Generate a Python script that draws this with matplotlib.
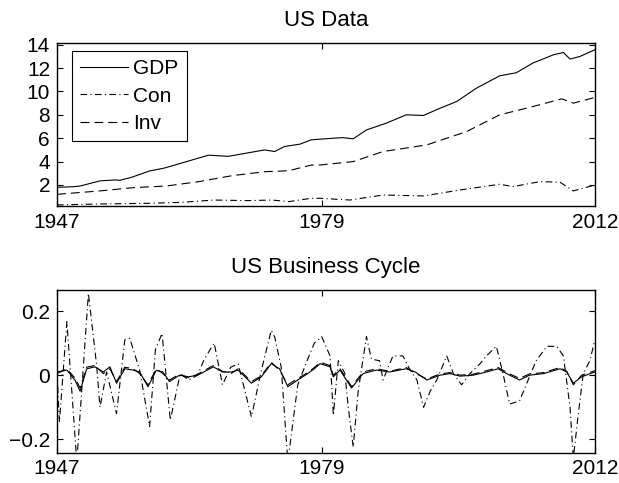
import numpy as np
import matplotlib
matplotlib.use("Agg")
import matplotlib.pyplot as plt

plt.rcParams['font.family'] = ['Liberation Sans', 'DejaVu Sans']

# --- levels ---
gdp_t = [1947, 1949, 1949.8, 1952.2, 1954, 1954.6, 1956, 1958.2, 1960, 1962, 1965.3,
         1967.7, 1970.1, 1972.1, 1973.3, 1974.5, 1976.4, 1977.7, 1980.4, 1981.5,
         1982.8, 1984.4, 1986.8, 1989.2, 1991.3, 1993.3, 1995.3, 1997.7, 2000.5,
         2002.5, 2004.5, 2007, 2008.2, 2009, 2010.2, 2012]
gdp = [1.8, 1.85, 1.91, 2.35, 2.43, 2.4, 2.65, 3.2, 3.45, 3.86, 4.55,
       4.45, 4.75, 5.0, 4.86, 5.29, 5.5, 5.86, 6.0, 6.05,
       5.95, 6.71, 7.29, 8.0, 7.95, 8.57, 9.14, 10.29, 11.34,
       11.6, 12.43, 13.14, 13.34, 12.77, 13.0, 13.57]

inv_t = [1947, 1952.2, 1956.2, 1960.2, 1964.2, 1968.2, 1972.2, 1974.5, 1975.4,
         1977.7, 1978.8, 1982.8, 1986.4, 1991.7, 1996.5, 2000.5, 2004.5, 2008,
         2009.4, 2012]
inv = [1.2, 1.49, 1.77, 1.91, 2.29, 2.8, 3.14, 3.2, 3.29,
       3.7, 3.71, 4.0, 4.86, 5.43, 6.57, 8.0, 8.71, 9.37,
       9.0, 9.49]

con_t = [1947, 1952, 1958, 1962, 1966, 1970, 1973, 1975, 1977.7, 1978.8,
         1982.4, 1986.4, 1991.3, 1995.7, 2000.5, 2002.1, 2005.4, 2007.8,
         2009.4, 2012]
con = [0.29, 0.37, 0.43, 0.51, 0.71, 0.66, 0.71, 0.57, 0.86, 0.86,
       0.71, 1.14, 1.06, 1.57, 2.06, 1.86, 2.29, 2.23,
       1.49, 2.0]

# --- cycles ---
cyc_gdp_t = [1947, 1948.2, 1949.2, 1949.8, 1950.6, 1951.6, 1952.6, 1953.4, 1954.2,
             1955.2, 1956.2, 1957, 1958, 1959, 1959.8, 1960.6, 1961.8, 1962.9, 1964,
             1965.9, 1967, 1968.1, 1968.9, 1970.5, 1971.7, 1972.9, 1973.9, 1974.9,
             1976.1, 1977.3, 1978.1, 1978.8, 1980, 1980.4, 1981.2, 1982.6, 1984,
             1985.6, 1987.2, 1989.2, 1990.3, 1991.7, 1993.3, 1994.5, 1995.7, 1997.3,
             1998.9, 2000.3, 2001.7, 2002.9, 2004.1, 2005.8, 2007.8, 2008.6, 2009.4,
             2010.4, 2012]
cyc_gdp = [0.01, 0.016, -0.016, -0.05, 0.02, 0.026, 0.01, 0.026, -0.025,
           0.02, 0.016, 0.01, -0.036, 0.015, 0.01, -0.02, 0.0, -0.005, 0.0,
           0.026, 0.01, 0.01, 0.016, -0.025, -0.005, 0.036, 0.02, -0.036,
           -0.015, 0.005, 0.02, 0.036, 0.026, -0.005, 0.016, -0.04, 0.005,
           0.016, 0.01, 0.02, 0.01, -0.015, 0.0, 0.005, -0.003, 0.0,
           0.01, 0.02, 0.0, -0.015, 0.0, 0.005, 0.02, 0.01, -0.025,
           -0.005, 0.01]
cyc_inv = [0.005, 0.02, -0.01, -0.04, 0.025, 0.03, 0.005, 0.02, -0.02,
           0.025, 0.02, 0.005, -0.03, 0.02, 0.005, -0.015, 0.003, -0.008, 0.003,
           0.03, 0.012, 0.006, 0.02, -0.02, -0.002, 0.04, 0.015, -0.03,
           -0.01, 0.008, 0.024, 0.04, 0.03, 0.0, 0.02, -0.035, 0.01,
           0.02, 0.012, 0.024, 0.006, -0.012, 0.004, 0.008, 0.0, 0.003,
           0.014, 0.024, 0.004, -0.01, 0.004, 0.008, 0.024, 0.012, -0.03,
           0.0, 0.014]

cyc_con_t = [1947, 1947.3, 1948.2, 1949.4, 1950.8, 1951.8, 1952.2, 1953, 1954.2,
             1955.2, 1955.8, 1957, 1958.2, 1958.9, 1959.7, 1960.7, 1961.9, 1962.9,
             1964, 1964.8, 1966, 1967, 1968, 1968.9, 1970.5, 1971.7, 1972.9, 1973.3,
             1974.1, 1974.9, 1976.1, 1977.3, 1978.1, 1979.0, 1980.0, 1980.4, 1981,
             1981.8, 1982.2, 1982.8, 1983.4, 1984.4, 1985.0, 1986.0, 1986.4, 1987.6,
             1988.8, 1989.6, 1990.5, 1991.3, 1992.1, 1992.9, 1994.1, 1994.9, 1995.9,
             1996.9, 1998.1, 1998.9, 2000.1, 2000.9, 2001.7, 2002.9, 2003.7, 2004.9,
             2006.2, 2007.4, 2008.2, 2009.0, 2009.4, 2010.0, 2010.6, 2011.4, 2012]
cyc_con = [0.01, -0.146, 0.167, -0.27, 0.255, 0.03, -0.1, 0.01, -0.12,
           0.11, 0.115, 0.015, -0.16, 0.08, 0.13, -0.14, 0.005, -0.015,
           0.0, 0.05, 0.1, -0.03, 0.025, 0.035, -0.13, 0.015, 0.14, 0.12,
           0.025, -0.27, -0.03, 0.05, 0.1, 0.12, 0.06, -0.125, 0.045,
           0.005, -0.1, -0.224, -0.05, 0.12, 0.05, 0.045, -0.015, 0.06,
           0.06, 0.02, -0.015, -0.1, -0.05, -0.015, 0.06, 0.005, -0.03,
           0.005, 0.035, 0.06, 0.09, 0.005, -0.09, -0.08, -0.03, 0.045,
           0.09, 0.09, 0.06, -0.1, -0.26, -0.12, 0.005, 0.045, 0.11]

years = [1947, 1979, 2012]

fig = plt.figure(figsize=(6.19, 4.83), dpi=100)
ax1 = fig.add_axes([0.092, 0.5735, 0.869, 0.3375])
ax2 = fig.add_axes([0.092, 0.0631, 0.869, 0.3375])

lw = 0.8
dashed = (0, (8, 4.5))
dashdot = (0, (6, 3, 1, 3))

ax1.plot(gdp_t, gdp, color='k', lw=lw, label='GDP')
ax1.plot(con_t, con, color='k', lw=lw, linestyle=dashdot, label='Con')
ax1.plot(inv_t, inv, color='k', lw=lw, linestyle=dashed, label='Inv')
ax1.set_ylim(0.2, 14.15)
ax1.set_yticks([2, 4, 6, 8, 10, 12, 14])
ax1.set_title('US Data', fontsize=16, pad=12)
leg = ax1.legend(loc='upper left', bbox_to_anchor=(0.028, 0.951), borderaxespad=0,
                 fancybox=False, edgecolor='k', framealpha=1, fontsize=15,
                 handlelength=2.3, handletextpad=0.25, labelspacing=0.4,
                 borderpad=0.4)
leg.get_frame().set_linewidth(0.8)

ax2.plot(cyc_gdp_t, cyc_gdp, color='k', lw=lw)
ax2.plot(cyc_gdp_t, cyc_inv, color='k', lw=lw, linestyle=dashed)
ax2.plot(cyc_con_t, cyc_con, color='k', lw=lw, linestyle=dashdot)
ax2.set_ylim(-0.241, 0.267)
ax2.set_yticks([-0.2, 0, 0.2])
ax2.set_yticklabels(['\u22120.2', '0', '0.2'])
ax2.set_title('US Business Cycle', fontsize=16, pad=12)

for ax in (ax1, ax2):
    ax.set_xlim(1947, 2012)
    ax.set_xticks(years)
    ax.set_xticklabels([str(y) for y in years])
    ax.tick_params(direction='in', top=True, right=True, length=4, width=0.8,
                   labelsize=15, pad=5)
    for s in ax.spines.values():
        s.set_linewidth(1.0)

fig.savefig('out.png', dpi=100)
